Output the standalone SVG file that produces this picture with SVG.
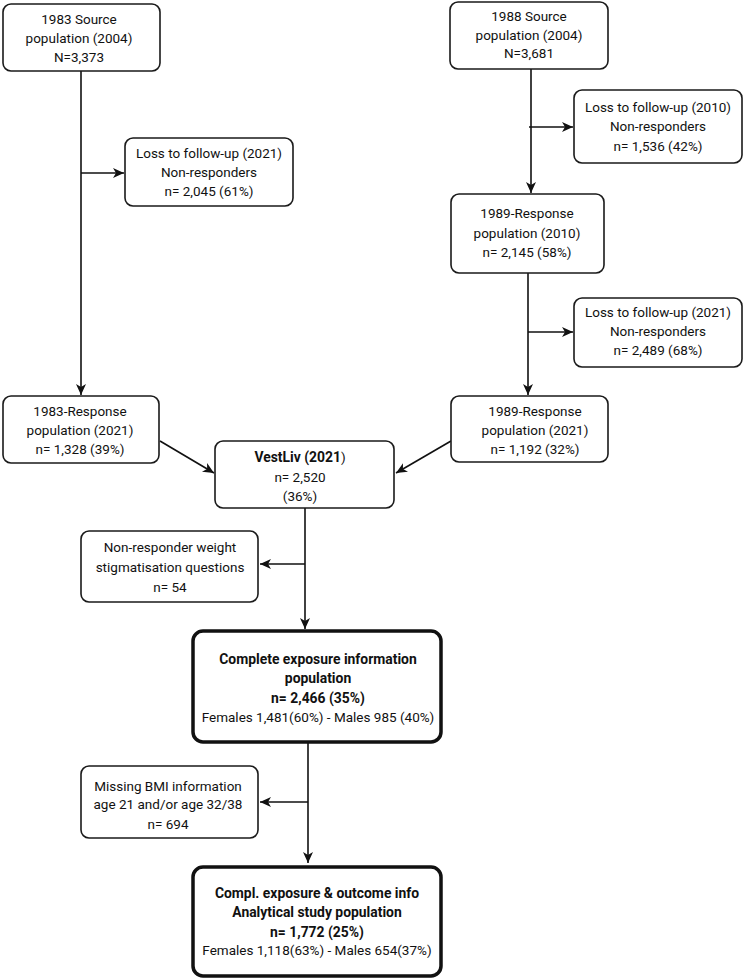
<svg xmlns="http://www.w3.org/2000/svg" width="744" height="980" viewBox="0 0 744 980">
<defs>
<marker id="ah" markerUnits="userSpaceOnUse" markerWidth="12" markerHeight="12" viewBox="0 0 12 12" refX="11" refY="6" orient="auto">
<path d="M0,1 L11,6 L0,11 L3,6 Z" fill="#111"/>
</marker>
</defs>
<style>
.b{fill:#fff;stroke:#1a1a1a;stroke-width:1.6}
.k{fill:#fff;stroke:#111;stroke-width:3.5}
text{font-family:Roboto,"Liberation Sans",sans-serif;font-size:13.5px;fill:#111;text-anchor:middle}
.bd{font-weight:bold;font-size:13.9px}
.c{fill:none;stroke:#111;stroke-width:1.6}
</style>
<rect width="744" height="980" fill="#fff"/>
<g id="connectors">
<path class="c" d="M81,71 V395" marker-end="url(#ah)"/>
<path class="c" d="M81,173 H124" marker-end="url(#ah)"/>
<path class="c" d="M531,69 V193" marker-end="url(#ah)"/>
<path class="c" d="M529,127 H573" marker-end="url(#ah)"/>
<path class="c" d="M528,273 V395" marker-end="url(#ah)"/>
<path class="c" d="M528,332 H573" marker-end="url(#ah)"/>
<path class="c" d="M160,441 L214,473" marker-end="url(#ah)"/>
<path class="c" d="M451,441 L396,473" marker-end="url(#ah)"/>
<path class="c" d="M305,508 V629" marker-end="url(#ah)"/>
<path class="c" d="M305,564 H260" marker-end="url(#ah)"/>
<path class="c" d="M308,742 V863" marker-end="url(#ah)"/>
<path class="c" d="M308,802 H260" marker-end="url(#ah)"/>
</g>
<g id="src1983">
<rect class="b" x="3" y="4" width="157" height="67" rx="8"/>
<text x="79" y="24">1983 Source</text>
<text x="79" y="43">population (2004)</text>
<text x="79" y="62">N=3,373</text>
</g>
<g id="loss1983">
<rect class="b" x="125" y="138" width="168" height="68" rx="8"/>
<text x="209" y="158">Loss to follow-up (2021)</text>
<text x="209" y="177">Non-responders</text>
<text x="209" y="196">n= 2,045 (61%)</text>
</g>
<g id="src1988">
<rect class="b" x="450" y="2" width="158" height="67" rx="8"/>
<text x="529" y="21">1988 Source</text>
<text x="529" y="40">population (2004)</text>
<text x="529" y="58">N=3,681</text>
</g>
<g id="loss2010">
<rect class="b" x="574" y="90" width="168" height="73" rx="8"/>
<text x="658" y="112">Loss to follow-up (2010)</text>
<text x="658" y="131">Non-responders</text>
<text x="658" y="151">n= 1,536 (42%)</text>
</g>
<g id="resp1989a">
<rect class="b" x="451" y="194" width="153" height="79" rx="8"/>
<text x="527" y="218">1989-Response</text>
<text x="527" y="238">population (2010)</text>
<text x="527" y="257">n= 2,145 (58%)</text>
</g>
<g id="loss2021b">
<rect class="b" x="574" y="298" width="168" height="69" rx="8"/>
<text x="658" y="317">Loss to follow-up (2021)</text>
<text x="658" y="336">Non-responders</text>
<text x="658" y="355">n= 2,489 (68%)</text>
</g>
<g id="resp1989b">
<rect class="b" x="451" y="396" width="157" height="66" rx="8"/>
<text x="535" y="416">1989-Response</text>
<text x="535" y="435">population (2021)</text>
<text x="535" y="454">n= 1,192 (32%)</text>
</g>
<g id="resp1983">
<rect class="b" x="3" y="396" width="156" height="67" rx="8"/>
<text x="80" y="416">1983-Response</text>
<text x="80" y="435">population (2021)</text>
<text x="80" y="454">n= 1,328 (39%)</text>
</g>
<g id="vestliv">
<rect class="b" x="215" y="441" width="179" height="67" rx="8"/>
<text x="300" y="462"><tspan class="bd">VestLiv (2021</tspan>)</text>
<text x="300" y="482">n= 2,520</text>
<text x="300" y="501">(36%)</text>
</g>
<g id="nonresp">
<rect class="b" x="81" y="531" width="177" height="71" rx="8"/>
<text x="170" y="552">Non-responder weight</text>
<text x="170" y="572">stigmatisation questions</text>
<text x="170" y="592">n= 54</text>
</g>
<g id="complete">
<rect class="k" x="193" y="631" width="248" height="111" rx="10"/>
<text class="bd" x="318" y="664">Complete exposure information</text>
<text class="bd" x="318" y="683">population</text>
<text class="bd" x="318" y="703">n= 2,466 (35%)</text>
<text x="318" y="722">Females 1,481(60%) - Males 985 (40%)</text>
</g>
<g id="missing">
<rect class="b" x="81" y="766" width="177" height="72" rx="8"/>
<text x="168" y="791">Missing BMI information</text>
<text x="168" y="809">age 21 and/or age 32/38</text>
<text x="168" y="829">n= 694</text>
</g>
<g id="final">
<rect class="k" x="193" y="867" width="248" height="109" rx="10"/>
<text class="bd" x="317" y="898">Compl. exposure &amp; outcome info</text>
<text class="bd" x="317" y="917">Analytical study population</text>
<text class="bd" x="317" y="937">n= 1,772 (25%)</text>
<text x="317" y="955">Females 1,118(63%) - Males 654(37%)</text>
</g>
</svg>
